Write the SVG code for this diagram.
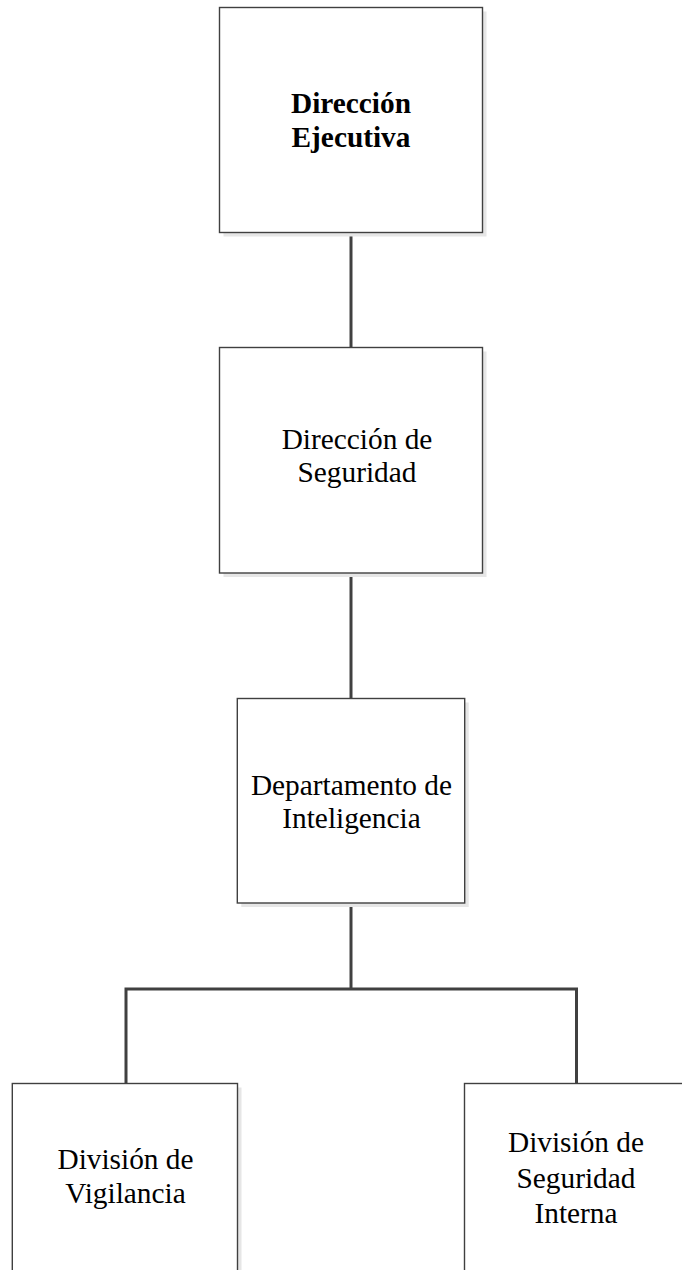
<svg xmlns="http://www.w3.org/2000/svg" width="682" height="1270" viewBox="0 0 682 1270">
<style>
.shadow{fill:#e6e6e6;stroke:none}
.box{fill:#ffffff;stroke:#404040;stroke-width:1.4}
.conn{fill:none;stroke:#404040;stroke-width:3}
text{font-family:"Liberation Serif","Times New Roman",serif;font-size:29.33px;fill:#000;text-anchor:middle}
.bold{font-weight:bold}
</style>
<rect width="682" height="1270" fill="#ffffff"/>
<g id="connectors">
<line class="conn" x1="351" y1="232.7" x2="351" y2="347.5"/>
<line class="conn" x1="351" y1="573" x2="351" y2="698.5"/>
<line class="conn" x1="351" y1="903" x2="351" y2="989"/>
<polyline class="conn" points="126,1083.5 126,989 576.5,989 576.5,1083.5"/>
</g>
<g id="n1">
<rect class="shadow" x="223.5" y="11.5" width="263" height="225"/>
<rect class="box" x="219.5" y="7.5" width="263" height="225"/>
<text class="bold" x="351" y="113">Dirección</text>
<text class="bold" x="351" y="146.5">Ejecutiva</text>
</g>
<g id="n2">
<rect class="shadow" x="223.5" y="351.5" width="263" height="225.5"/>
<rect class="box" x="219.5" y="347.5" width="263" height="225.5"/>
<text x="357" y="449">Dirección de</text>
<text x="357" y="482">Seguridad</text>
</g>
<g id="n3">
<rect class="shadow" x="241.3" y="702.5" width="227.4" height="204.5"/>
<rect class="box" x="237.3" y="698.5" width="227.4" height="204.5"/>
<text x="351.5" y="795">Departamento de</text>
<text x="351.5" y="827.5">Inteligencia</text>
</g>
<g id="n4">
<rect class="shadow" x="16.3" y="1087.5" width="225.2" height="205"/>
<rect class="box" x="12.3" y="1083.5" width="225.2" height="205"/>
<text x="125.5" y="1169">División de</text>
<text x="125.5" y="1202.5">Vigilancia</text>
</g>
<g id="n5">
<rect class="shadow" x="468.5" y="1087.5" width="225.2" height="205"/>
<rect class="box" x="464.5" y="1083.5" width="225.2" height="205"/>
<text x="576" y="1152">División de</text>
<text x="576" y="1187.5">Seguridad</text>
<text x="576" y="1223">Interna</text>
</g>
</svg>
